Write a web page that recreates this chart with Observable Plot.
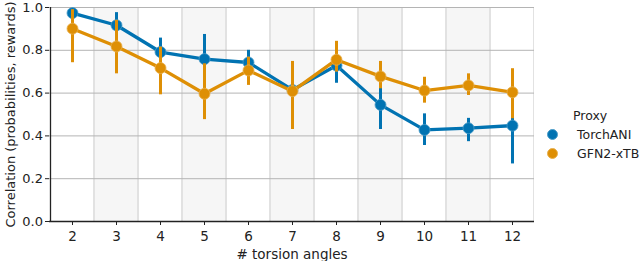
<!DOCTYPE html>
<html>
<head>
<meta charset="utf-8">
<script src="https://cdn.jsdelivr.net/npm/d3@7"></script>
<script src="https://cdn.jsdelivr.net/npm/@observablehq/plot@0.6"></script>
<style>
  body { margin: 0; background: #fff; }
  #wrap { position: relative; width: 640px; height: 261px; font-family: "DejaVu Sans", sans-serif; }
  #legend { position: absolute; left: 547px; top: 106px; font-size: 12.5px; color: #222; white-space: nowrap; }
  #legend .title { margin-left: 26px; line-height: 19px; }
  #legend .item { display: flex; align-items: center; line-height: 19px; }
  #legend .sw { width: 11px; height: 11px; border-radius: 50%; margin-right: 19px; box-sizing: border-box; flex: none; }
</style>
</head>
<body>
<div id="wrap"></div>
<script>
const categories = [2, 3, 4, 5, 6, 7, 8, 9, 10, 11, 12];
const shadedCategories = [3, 5, 7, 9, 11];
const seriesNames = ["TorchANI", "GFN2-xTB"];
const seriesColors = ["#0173b2", "#de8f05"];
const torchani   = [0.974, 0.917, 0.792, 0.759, 0.743, 0.615, 0.729, 0.545, 0.428, 0.436, 0.448];
const torchaniLo = [0.955, 0.870, 0.745, 0.700, 0.700, 0.560, 0.646, 0.430, 0.355, 0.373, 0.269];
const torchaniHi = [0.990, 0.976, 0.857, 0.874, 0.800, 0.660, 0.790, 0.630, 0.503, 0.482, 0.600];
const gfn2       = [0.901, 0.818, 0.717, 0.597, 0.706, 0.609, 0.756, 0.678, 0.612, 0.636, 0.604];
const gfn2Lo     = [0.742, 0.690, 0.592, 0.476, 0.636, 0.430, 0.698, 0.620, 0.553, 0.589, 0.480];
const gfn2Hi     = [0.990, 0.940, 0.815, 0.737, 0.768, 0.748, 0.842, 0.748, 0.674, 0.690, 0.714];
const yTicks = [0, 0.2, 0.4, 0.6, 0.8, 1.0];

const rows = (name, v, lo, hi) => categories.map((c, i) => ({cat: c, series: name, v: v[i], lo: lo[i], hi: hi[i]}));
const tData = rows(seriesNames[0], torchani, torchaniLo, torchaniHi);
const gData = rows(seriesNames[1], gfn2, gfn2Lo, gfn2Hi);

const seriesMarks = (data, color) => [
  Plot.ruleX(data, {x: "cat", y1: "lo", y2: "hi", stroke: color, strokeWidth: 3}),
  Plot.line(data, {x: "cat", y: "v", stroke: color, strokeWidth: 3.3}),
  Plot.dot(data, {x: "cat", y: "v", r: 5.5, fill: color, stroke: d3.interpolateRgb(color, "#fff")(0.3), strokeWidth: 0.8})
];

const chart = Plot.plot({
  width: 640,
  height: 261,
  marginLeft: 49,
  marginRight: 106,
  marginTop: 7,
  marginBottom: 40,
  style: {fontFamily: "DejaVu Sans, sans-serif", fontSize: "13px", color: "#222", background: "#fff"},
  x: {type: "band", domain: categories, padding: 0},
  y: {domain: [0, 1]},
  marks: [
    Plot.barY(categories, {x: d => d, y1: 0, y2: 1, fill: "#e2e2e2"}),
    Plot.barY(categories, {x: d => d, y1: 0, y2: 1, fill: d => shadedCategories.includes(d) ? "#f6f6f6" : "#ffffff", insetLeft: 1, insetRight: 1}),
    Plot.ruleY(yTicks.slice(1), {stroke: "#b4b4b4", strokeWidth: 1}),
    ...seriesMarks(tData, seriesColors[0]),
    ...seriesMarks(gData, seriesColors[1]),
    Plot.axisY({ticks: yTicks, tickFormat: d3.format(".1f"), tickSize: 4, tickPadding: 2.5, fontSize: 13, label: "Correlation (probabilities, rewards)", labelAnchor: "center", labelArrow: "none", labelOffset: 44}),
    Plot.axisX({tickSize: 4, tickPadding: 6, fontSize: 13.5, label: "# torsion angles", labelAnchor: "center", labelArrow: "none", labelOffset: 37}),
    Plot.ruleX([0], {x: () => categories[0], dx: -22, y1: 0, y2: 1, stroke: "#222", strokeWidth: 1.3}),
    Plot.ruleY([0], {stroke: "#222", strokeWidth: 1.3})
  ]
});

const wrap = document.getElementById("wrap");
wrap.appendChild(chart);

const legend = document.createElement("div");
legend.id = "legend";
legend.innerHTML = `<div class="title">Proxy</div>` + seriesNames.map((n, i) =>
  `<div class="item"><span class="sw" style="background:${seriesColors[i]};border:1.5px solid ${d3.interpolateRgb(seriesColors[i], "#fff")(0.3)}"></span>${n}</div>`).join("");
wrap.appendChild(legend);
</script>
</body>
</html>
